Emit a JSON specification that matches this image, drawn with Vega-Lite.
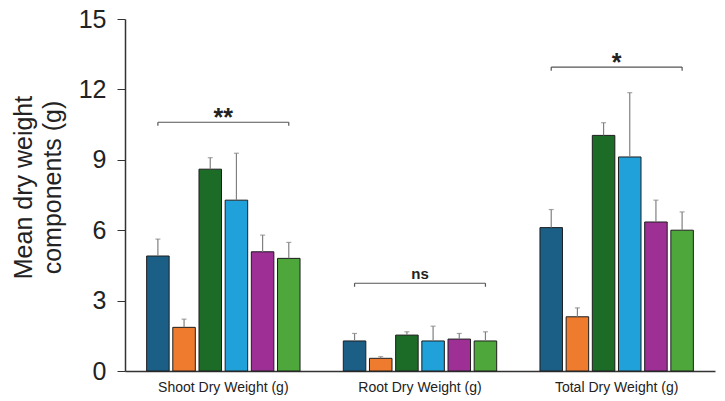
{
  "$schema": "https://vega.github.io/schema/vega-lite/v6.json",
  "width": 590,
  "height": 352,
  "autosize": {"type": "none"},
  "padding": {"left": 125, "top": 19, "right": 10, "bottom": 30},
  "datasets": {
    "bars": [
      {"group": "Shoot Dry Weight (g)", "treatment": "T1", "mean": 4.9, "upper": 5.62},
      {"group": "Shoot Dry Weight (g)", "treatment": "T2", "mean": 1.86, "upper": 2.21},
      {"group": "Shoot Dry Weight (g)", "treatment": "T3", "mean": 8.6, "upper": 9.09},
      {"group": "Shoot Dry Weight (g)", "treatment": "T4", "mean": 7.28, "upper": 9.28},
      {"group": "Shoot Dry Weight (g)", "treatment": "T5", "mean": 5.08, "upper": 5.79},
      {"group": "Shoot Dry Weight (g)", "treatment": "T6", "mean": 4.8, "upper": 5.48},
      {"group": "Root Dry Weight (g)", "treatment": "T1", "mean": 1.28, "upper": 1.6},
      {"group": "Root Dry Weight (g)", "treatment": "T2", "mean": 0.54, "upper": 0.61},
      {"group": "Root Dry Weight (g)", "treatment": "T3", "mean": 1.53, "upper": 1.67},
      {"group": "Root Dry Weight (g)", "treatment": "T4", "mean": 1.28, "upper": 1.91},
      {"group": "Root Dry Weight (g)", "treatment": "T5", "mean": 1.36, "upper": 1.6},
      {"group": "Root Dry Weight (g)", "treatment": "T6", "mean": 1.28, "upper": 1.67},
      {"group": "Total Dry Weight (g)", "treatment": "T1", "mean": 6.11, "upper": 6.88},
      {"group": "Total Dry Weight (g)", "treatment": "T2", "mean": 2.31, "upper": 2.69},
      {"group": "Total Dry Weight (g)", "treatment": "T3", "mean": 10.04, "upper": 10.58},
      {"group": "Total Dry Weight (g)", "treatment": "T4", "mean": 9.12, "upper": 11.86},
      {"group": "Total Dry Weight (g)", "treatment": "T5", "mean": 6.35, "upper": 7.28},
      {"group": "Total Dry Weight (g)", "treatment": "T6", "mean": 6.0, "upper": 6.78}
    ],
    "brackets": [
      {"group": "Shoot Dry Weight (g)", "treatment": "T1", "y": 10.6, "yend": 10.45},
      {"group": "Shoot Dry Weight (g)", "treatment": "T6", "y": 10.6, "yend": 10.45},
      {"group": "Root Dry Weight (g)", "treatment": "T1", "y": 3.74, "yend": 3.59},
      {"group": "Root Dry Weight (g)", "treatment": "T6", "y": 3.74, "yend": 3.59},
      {"group": "Total Dry Weight (g)", "treatment": "T1", "y": 12.95, "yend": 12.8},
      {"group": "Total Dry Weight (g)", "treatment": "T6", "y": 12.95, "yend": 12.8}
    ],
    "labels": [
      {"group": "Shoot Dry Weight (g)", "y": 10.6, "label": "**"},
      {"group": "Root Dry Weight (g)", "y": 3.74, "label": "ns"},
      {"group": "Total Dry Weight (g)", "y": 12.95, "label": "*"}
    ]
  },
  "layer": [
    {
      "data": {"name": "bars"},
      "mark": {"type": "bar", "stroke": "#1e1e1e", "strokeWidth": 1},
      "encoding": {
        "x": {
          "field": "group", "type": "nominal", "sort": null,
          "scale": {"paddingInner": 0.22, "paddingOuter": 0.11},
          "axis": {"title": null, "labelAngle": 0, "ticks": false, "labelFontSize": 14, "labelFont": "Liberation Sans", "labelColor": "#222", "labelPadding": 9, "domainColor": "#333", "domainWidth": 1.5}
        },
        "xOffset": {"field": "treatment", "type": "nominal", "scale": {"domain": ["T1", "T2", "T3", "T4", "T5", "T6"], "paddingInner": 0.14, "paddingOuter": 0}},
        "y": {
          "field": "mean", "type": "quantitative",
          "scale": {"domain": [0, 15], "nice": false},
          "axis": {"title": ["Mean dry weight", "components (g)"], "values": [0, 3, 6, 9, 12, 15], "grid": false, "tickSize": 8, "tickColor": "#333", "domainColor": "#333", "domainWidth": 1.5, "labelFontSize": 25, "labelFont": "Liberation Sans", "labelColor": "#222", "labelPadding": 11, "titleFont": "Liberation Sans", "titleFontSize": 25, "titleFontWeight": "normal", "titleColor": "#222", "titlePadding": 13, "titleLineHeight": 29, "titleY": 168}
        },
        "color": {
          "field": "treatment", "type": "nominal", "legend": null,
          "scale": {"domain": ["T1", "T2", "T3", "T4", "T5", "T6"], "range": ["#1b5f86", "#ef7b2e", "#1c6b27", "#20a1d9", "#9e2f94", "#4ea73a"]}
        }
      }
    },
    {
      "data": {"name": "bars"},
      "mark": {"type": "rule", "color": "#808080", "strokeWidth": 1.2},
      "encoding": {
        "x": {"field": "group", "type": "nominal", "sort": null},
        "xOffset": {"field": "treatment", "type": "nominal"},
        "y": {"field": "mean", "type": "quantitative"},
        "y2": {"field": "upper"}
      }
    },
    {
      "data": {"name": "bars"},
      "mark": {"type": "tick", "color": "#808080", "orient": "horizontal", "size": 5, "thickness": 1.2},
      "encoding": {
        "x": {"field": "group", "type": "nominal", "sort": null},
        "xOffset": {"field": "treatment", "type": "nominal"},
        "y": {"field": "upper", "type": "quantitative"}
      }
    },
    {
      "data": {"name": "brackets"},
      "mark": {"type": "line", "color": "#555", "strokeWidth": 1.2},
      "encoding": {
        "x": {"field": "group", "type": "nominal", "sort": null},
        "xOffset": {"field": "treatment", "type": "nominal"},
        "y": {"field": "y", "type": "quantitative"},
        "detail": {"field": "group"}
      }
    },
    {
      "data": {"name": "brackets"},
      "mark": {"type": "rule", "color": "#555", "strokeWidth": 1.2},
      "encoding": {
        "x": {"field": "group", "type": "nominal", "sort": null},
        "xOffset": {"field": "treatment", "type": "nominal"},
        "y": {"field": "y", "type": "quantitative"},
        "y2": {"field": "yend"}
      }
    },
    {
      "data": {"name": "labels"},
      "transform": [{"filter": "datum.label != 'ns'"}],
      "mark": {"type": "text", "font": "Liberation Sans", "fontWeight": "bold", "fontSize": 25, "color": "#222", "baseline": "middle", "dy": -4},
      "encoding": {
        "x": {"field": "group", "type": "nominal", "sort": null},
        "y": {"field": "y", "type": "quantitative"},
        "text": {"field": "label"}
      }
    },
    {
      "data": {"name": "labels"},
      "transform": [{"filter": "datum.label == 'ns'"}],
      "mark": {"type": "text", "font": "Liberation Sans", "fontWeight": "bold", "fontSize": 15, "color": "#222", "baseline": "middle", "dy": -9},
      "encoding": {
        "x": {"field": "group", "type": "nominal", "sort": null},
        "y": {"field": "y", "type": "quantitative"},
        "text": {"field": "label"}
      }
    }
  ],
  "config": {"view": {"stroke": null}}
}
